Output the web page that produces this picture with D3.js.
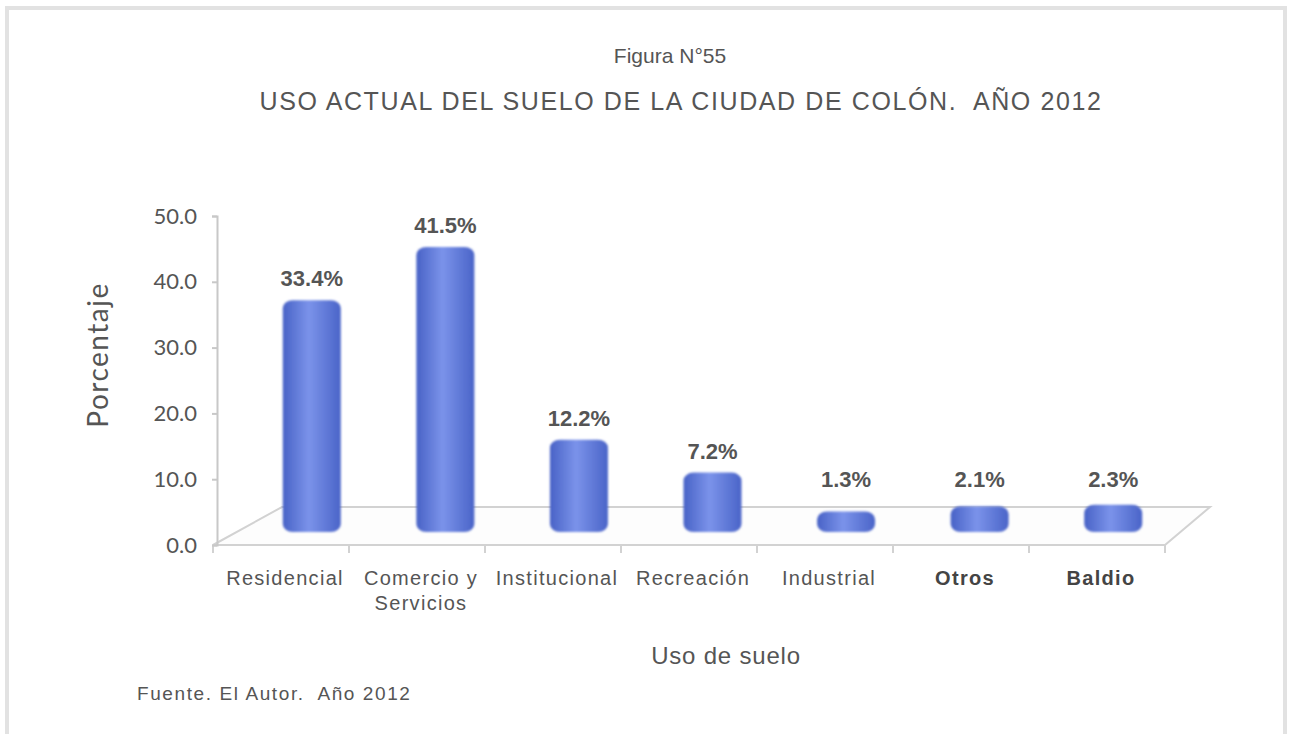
<!DOCTYPE html>
<html>
<head>
<meta charset="utf-8">
<script src="https://cdn.jsdelivr.net/npm/d3@7"></script>
<style>
  html, body { margin: 0; padding: 0; background: #ffffff; }
  svg { display: block; }
  text { white-space: pre; }
</style>
</head>
<body>
<svg id="chart" width="1295" height="734"></svg>
<script>
// ---- data ----
const categories = ["Residencial", "Comercio y Servicios", "Institucional", "Recreación", "Industrial", "Otros", "Baldio"];
const categoryLines = [["Residencial"], ["Comercio y", "Servicios"], ["Institucional"], ["Recreación"], ["Industrial"], ["Otros"], ["Baldio"]];
const values = [33.4, 41.5, 12.2, 7.2, 1.3, 2.1, 2.3];
const yTicks = [0, 10, 20, 30, 40, 50];
const figureLabel = "Figura N°55";
const titleText = "USO ACTUAL DEL SUELO DE LA CIUDAD DE COLÓN.  AÑO 2012";
const yTitle = "Porcentaje";
const xTitle = "Uso de suelo";
const sourceText = "Fuente. El Autor.  Año 2012";

// ---- layout ----
const svg = d3.select("#chart");
const axisX = 217, floorFront = 545, floorBack = 507;

// frame
svg.append("rect").attr("x", 7).attr("y", 8).attr("width", 1278).attr("height", 740)
  .attr("fill", "none").attr("stroke", "#e2e2e2").attr("stroke-width", 4);

const y = d3.scaleLinear().domain([0, 50]).range([floorFront, 216]);
const x = d3.scaleBand().domain(categories).range([213, 1165]).padding(0);
const xBar = d3.scaleBand().domain(categories).range([245, 1180]).padding(0);
const barW = 58;
const barBase = 532;
const depthLift = 25;

const defs = svg.append("defs");
const grad = defs.append("linearGradient").attr("id", "barGrad").attr("x1", "0%").attr("x2", "100%").attr("y1", "0%").attr("y2", "0%");
grad.append("stop").attr("offset", "0%").attr("stop-color", "#4862c6");
grad.append("stop").attr("offset", "45%").attr("stop-color", "#7b93ea");
grad.append("stop").attr("offset", "100%").attr("stop-color", "#4a64c8");
const blur = defs.append("filter").attr("id", "soft");
blur.append("feGaussianBlur").attr("stdDeviation", 0.9);

// floor
const floorPts = [[213, floorFront], [1165, floorFront], [1210, floorBack], [282, floorBack]];
svg.append("path")
  .attr("d", d3.line()(floorPts) + "Z")
  .attr("fill", "#fdfdfd").attr("stroke", "#d2d2d2").attr("stroke-width", 2);

// x ticks on front edge
const boundaries = categories.map(c => x(c)).concat([x(categories[categories.length - 1]) + x.bandwidth()]);
svg.append("g").selectAll("line").data(boundaries).join("line")
  .attr("x1", d => d).attr("x2", d => d)
  .attr("y1", floorFront).attr("y2", floorFront + 8)
  .attr("stroke", "#d2d2d2").attr("stroke-width", 2);

// y axis
const yAxis = d3.axisLeft(y).tickValues(yTicks).tickFormat(d3.format(".1f")).tickSize(5).tickPadding(15);
const gy = svg.append("g").attr("transform", `translate(${axisX},0)`).call(yAxis);
gy.select(".domain").attr("stroke", "#c8c8c8").attr("stroke-width", 2);
gy.selectAll(".tick line").attr("stroke", "#c8c8c8").attr("stroke-width", 2);
gy.selectAll(".tick text").attr("fill", "#555").style("font-family", "Lato, 'Open Sans', sans-serif").style("font-size", "22px");

// bars
const data = categories.map((c, i) => ({ c, v: values[i] }));
const barTop = d => y(d.v) - depthLift;
const barCx = d => xBar(d.c) + xBar.bandwidth() / 2;
svg.append("g").attr("filter", "url(#soft)").selectAll("rect").data(data).join("rect")
  .attr("x", d => barCx(d) - barW / 2)
  .attr("y", d => barTop(d))
  .attr("width", barW)
  .attr("height", d => barBase - barTop(d))
  .attr("rx", 10).attr("ry", 8)
  .attr("fill", "url(#barGrad)");

// value labels
svg.append("g").selectAll("text").data(data).join("text")
  .attr("x", d => barCx(d))
  .attr("y", d => Math.min(barTop(d) - 14, 487))
  .attr("text-anchor", "middle")
  .attr("fill", "#555")
  .style("font-family", "'Liberation Sans', Arial, sans-serif")
  .style("font-weight", "bold")
  .style("font-size", "22px")
  .text(d => d.v.toFixed(1) + "%");

// category labels
const catG = svg.append("g");
categories.forEach((c, i) => {
  const cx = x(c) + x.bandwidth() / 2 + 4;
  const t = catG.append("text")
    .attr("x", cx)
    .attr("y", 585)
    .attr("text-anchor", "middle")
    .attr("fill", (c === "Otros" || c === "Baldio") ? "#444" : "#555")
    .style("font-family", "'Liberation Sans', Arial, sans-serif")
    .style("font-size", "20px")
    .style("letter-spacing", "1.3px")
    .style("font-weight", (c === "Otros" || c === "Baldio") ? "bold" : "normal");
  categoryLines[i].forEach((ln, j) => {
    t.append("tspan").attr("x", cx).attr("dy", j === 0 ? 0 : 25).text(ln);
  });
});

// titles
svg.append("text").attr("x", 670).attr("y", 63).attr("text-anchor", "middle")
  .attr("fill", "#555").style("font-family", "'Liberation Sans', Arial, sans-serif").style("font-size", "21px")
  .text(figureLabel);
svg.append("text").attr("x", 681).attr("y", 110).attr("text-anchor", "middle")
  .attr("fill", "#555").style("font-family", "'Liberation Sans', Arial, sans-serif").style("font-size", "25px")
  .style("letter-spacing", "1.6px")
  .text(titleText);

// axis titles
svg.append("text").attr("transform", "translate(108,355) rotate(-90)").attr("text-anchor", "middle")
  .attr("fill", "#555").style("font-family", "Lato, 'Open Sans', sans-serif").style("font-size", "28px")
  .style("letter-spacing", "1.5px")
  .text(yTitle);
svg.append("text").attr("x", 726).attr("y", 664).attr("text-anchor", "middle")
  .attr("fill", "#555").style("font-family", "'Liberation Sans', Arial, sans-serif").style("font-size", "24px")
  .style("letter-spacing", "0.8px")
  .text(xTitle);

// source
svg.append("text").attr("x", 137).attr("y", 700).attr("text-anchor", "start")
  .attr("fill", "#555").style("font-family", "'Liberation Sans', Arial, sans-serif").style("font-size", "19px")
  .style("letter-spacing", "1.6px")
  .text(sourceText);
</script>
</body>
</html>
